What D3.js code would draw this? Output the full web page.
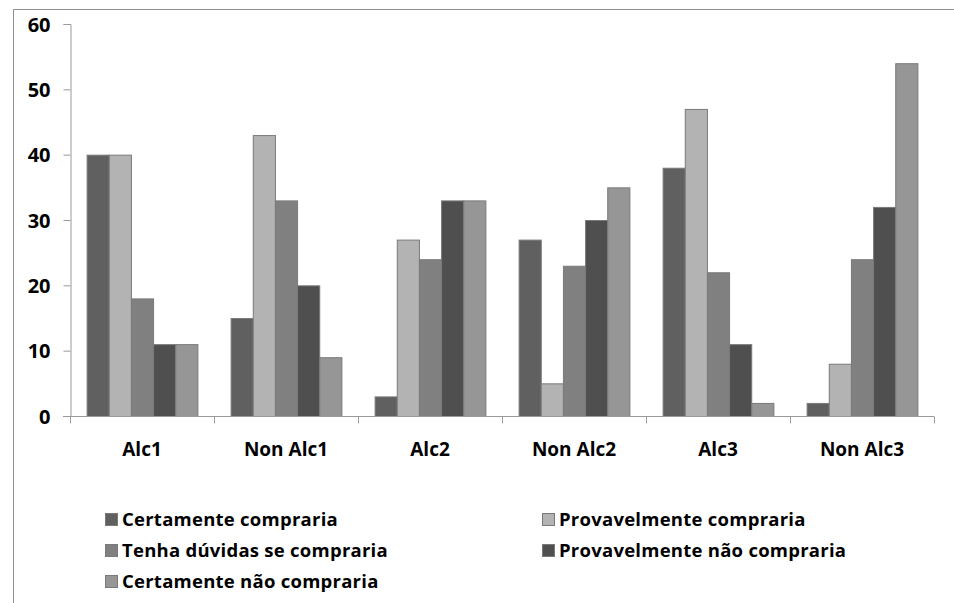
<!DOCTYPE html>
<html>
<head>
<meta charset="utf-8">
<script src="https://cdn.jsdelivr.net/npm/d3@7"></script>
<style>
  html, body { margin: 0; padding: 0; background: #fff; }
  svg { display: block; }
  text { font-family: "Open Sans", Lato, sans-serif; font-weight: bold; fill: #000; }
</style>
</head>
<body>
<svg id="chart" width="954" height="603"></svg>
<script>
// Categories on the x axis
const categories = ["Alc1", "Non Alc1", "Alc2", "Non Alc2", "Alc3", "Non Alc3"];

// Series names (purchase intention)
const seriesNames = [
  "Certamente compraria",
  "Provavelmente compraria",
  "Tenha dúvidas se compraria",
  "Provavelmente não compraria",
  "Certamente não compraria"
];

// Values per series, one per category
const certamenteCompraria       = [40, 15, 3, 27, 38, 2];
const provavelmenteCompraria    = [40, 43, 27, 5, 47, 8];
const tenhaDuvidas              = [18, 33, 24, 23, 22, 24];
const provavelmenteNaoCompraria = [11, 20, 33, 30, 11, 32];
const certamenteNaoCompraria    = [11, 9, 33, 35, 2, 54];

const seriesValues = [
  certamenteCompraria,
  provavelmenteCompraria,
  tenhaDuvidas,
  provavelmenteNaoCompraria,
  certamenteNaoCompraria
];

const yTicks = [0, 10, 20, 30, 40, 50, 60];

const colors = ["#606060", "#b3b3b3", "#808080", "#4f4f4f", "#969696"];

const svg = d3.select("#chart");

// Chart area frame
svg.append("path")
  .attr("d", "M13.5,610 L13.5,9.5 L960,9.5")
  .attr("fill", "none")
  .attr("stroke", "#8f8f8f")
  .attr("stroke-width", 1);

const plot = { left: 70, right: 934, top: 24, bottom: 416 };

const y = d3.scaleLinear().domain([0, 60]).range([plot.bottom, plot.top]);
const x0 = d3.scaleBand().domain(categories).range([plot.left, plot.right]).padding(0);
const bw = x0.bandwidth();
const barW = bw / 6.5;
const x1 = d3.scaleBand()
  .domain(d3.range(seriesNames.length))
  .range([barW * 0.75, bw - barW * 0.75])
  .padding(0);

// Y axis
const yAxis = d3.axisLeft(y).tickValues(yTicks).tickSize(7).tickPadding(13).tickFormat(d3.format("d"));
const gy = svg.append("g").attr("transform", `translate(${plot.left + 0.5},0)`).call(yAxis);
gy.select(".domain").attr("stroke", "#9a9a9a");
gy.selectAll(".tick line").attr("stroke", "#9a9a9a");
gy.selectAll(".tick text").style("font-size", "20px").attr("dy", "0.36em");

// Bars
const groups = svg.append("g").selectAll("g")
  .data(categories)
  .join("g")
  .attr("transform", d => `translate(${x0(d)},0)`);

groups.selectAll("rect")
  .data((c, ci) => seriesValues.map((vals, si) => ({ si, v: vals[ci] })))
  .join("rect")
  .attr("x", d => x1(d.si) + 0.5)
  .attr("y", d => y(d.v) + 0.5)
  .attr("width", x1.bandwidth())
  .attr("height", d => y(0) - y(d.v))
  .attr("fill", d => colors[d.si])
  .attr("stroke", "#7a7a7a")
  .attr("stroke-width", 1);

// X axis
const xAxis = d3.axisBottom(x0).tickSize(0).tickPadding(26);
const gx = svg.append("g").attr("transform", `translate(0,${plot.bottom + 0.5})`).call(xAxis);
gx.select(".domain").remove();
gx.append("line")
  .attr("x1", plot.left - 7).attr("x2", plot.right)
  .attr("y1", 0).attr("y2", 0)
  .attr("stroke", "#9a9a9a");
gx.selectAll(".catTick")
  .data(d3.range(categories.length + 1))
  .join("line")
  .attr("class", "catTick")
  .attr("x1", i => plot.left + 0.5 + i * bw)
  .attr("x2", i => plot.left + 0.5 + i * bw)
  .attr("y1", 0).attr("y2", 7)
  .attr("stroke", "#9a9a9a");
gx.selectAll(".tick text").style("font-size", "19px");

// Legend
const legendPos = [
  { x: 105, y: 513 }, { x: 542, y: 513 },
  { x: 105, y: 544 }, { x: 542, y: 544 },
  { x: 105, y: 575 }
];
const legend = svg.append("g").selectAll("g")
  .data(seriesNames)
  .join("g")
  .attr("transform", (d, i) => `translate(${legendPos[i].x},${legendPos[i].y})`);
legend.append("rect")
  .attr("x", 0.5).attr("y", 0.5)
  .attr("width", 12).attr("height", 12)
  .attr("fill", (d, i) => colors[i])
  .attr("stroke", "#7a7a7a");
legend.append("text")
  .attr("x", 17)
  .attr("y", 13)
  .style("font-size", "18.5px")
  .style("letter-spacing", "0.25px")
  .text(d => d);
</script>
</body>
</html>
